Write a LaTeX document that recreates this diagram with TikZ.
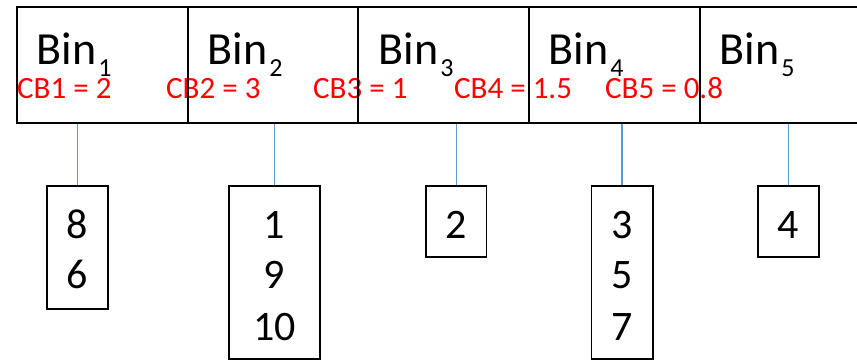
\documentclass[tikz,border=0pt]{standalone}
\usepackage{fontspec}
\setmainfont{Carlito}
\definecolor{linkblue}{RGB}{91,155,213}
\newcommand{\binsub}[1]{\kern2pt\raisebox{-12.4pt}{\fontsize{26}{30}\selectfont #1}}
\begin{document}
\begin{tikzpicture}[x=1pt,y=-1pt,
  binbox/.style={draw=black, line width=2pt, inner sep=0pt, minimum width=170.7pt, minimum height=115.7pt},
  itembox/.style={draw=black, line width=1.6pt, inner sep=0pt},
  link/.style={draw=linkblue, line width=1.2pt},
  bigtxt/.style={font=\fontsize{42}{50}\selectfont, inner sep=0pt, anchor=base},
  bintxt/.style={font=\fontsize{46}{54}\selectfont, inner sep=0pt, anchor=base west},
  cbtxt/.style={font=\fontsize{31}{36}\selectfont, text=red, inner sep=0pt, anchor=base west}]
\useasboundingbox (0,0) rectangle (857,360);
\clip (0,0) rectangle (857,360);

% cost labels, under the bin borders
\node[cbtxt] (cb1) at (17,98) {CB1 = 2};
\node[cbtxt] (cb2) at (166,98) {CB2 = 3};
\node[cbtxt] (cb3) at (313,98) {CB3 = 1};
\node[cbtxt] (cb4) at (454,98) {CB4 = 1.5};
\node[cbtxt] (cb5) at (605,98) {CB5 = 0.8};

% row of bins
\node[binbox] (bin1) at (102.35,64.85) {};
\node[binbox] (bin2) at (273.05,64.85) {};
\node[binbox] (bin3) at (443.75,64.85) {};
\node[binbox] (bin4) at (614.45,64.85) {};
\node[binbox] (bin5) at (785.15,64.85) {};

\node[bintxt] (t1) at (36.5,64.5) {Bin\binsub{1}};
\node[bintxt] (t2) at (207.5,64.5) {Bin\binsub{2}};
\node[bintxt] (t3) at (378.5,64.5) {Bin\binsub{3}};
\node[bintxt] (t4) at (548.5,64.5) {Bin\binsub{4}};
\node[bintxt] (t5) at (719.5,64.5) {Bin\binsub{5}};

% item lists
\node[itembox, minimum width=61pt, minimum height=123.3pt] (b1) at (77.5,247.35) {};
\node[itembox, minimum width=91.3pt, minimum height=173.3pt] (b2) at (274.35,272.35) {};
\node[itembox, minimum width=60.3pt, minimum height=71pt] (b3) at (456.15,221.2) {};
\node[itembox, minimum width=61.4pt, minimum height=173.3pt] (b4) at (622,272.35) {};
\node[itembox, minimum width=61.3pt, minimum height=71pt] (b5) at (788.35,221.2) {};

\node[bigtxt] (i8) at (77.5,238) {8};
\node[bigtxt] (i6) at (77.5,288) {6};
\node[bigtxt] (i1) at (274.35,238) {1};
\node[bigtxt] (i9) at (274.35,288) {9};
\node[bigtxt] (i10) at (274.35,340) {10};
\node[bigtxt] (i2) at (456.15,238) {2};
\node[bigtxt] (i3) at (622,238) {3};
\node[bigtxt] (i5) at (622,288) {5};
\node[bigtxt] (i7) at (622,340) {7};
\node[bigtxt] (i4) at (788.35,238) {4};

% links from bins to their lists
\draw[link] (b1.north) -- (b1.north |- bin1.south);
\draw[link] (b2.north) -- (b2.north |- bin2.south);
\draw[link] (b3.north) -- (b3.north |- bin3.south);
\draw[link] (b4.north) -- (b4.north |- bin4.south);
\draw[link] (b5.north) -- (b5.north |- bin5.south);
\end{tikzpicture}
\end{document}
